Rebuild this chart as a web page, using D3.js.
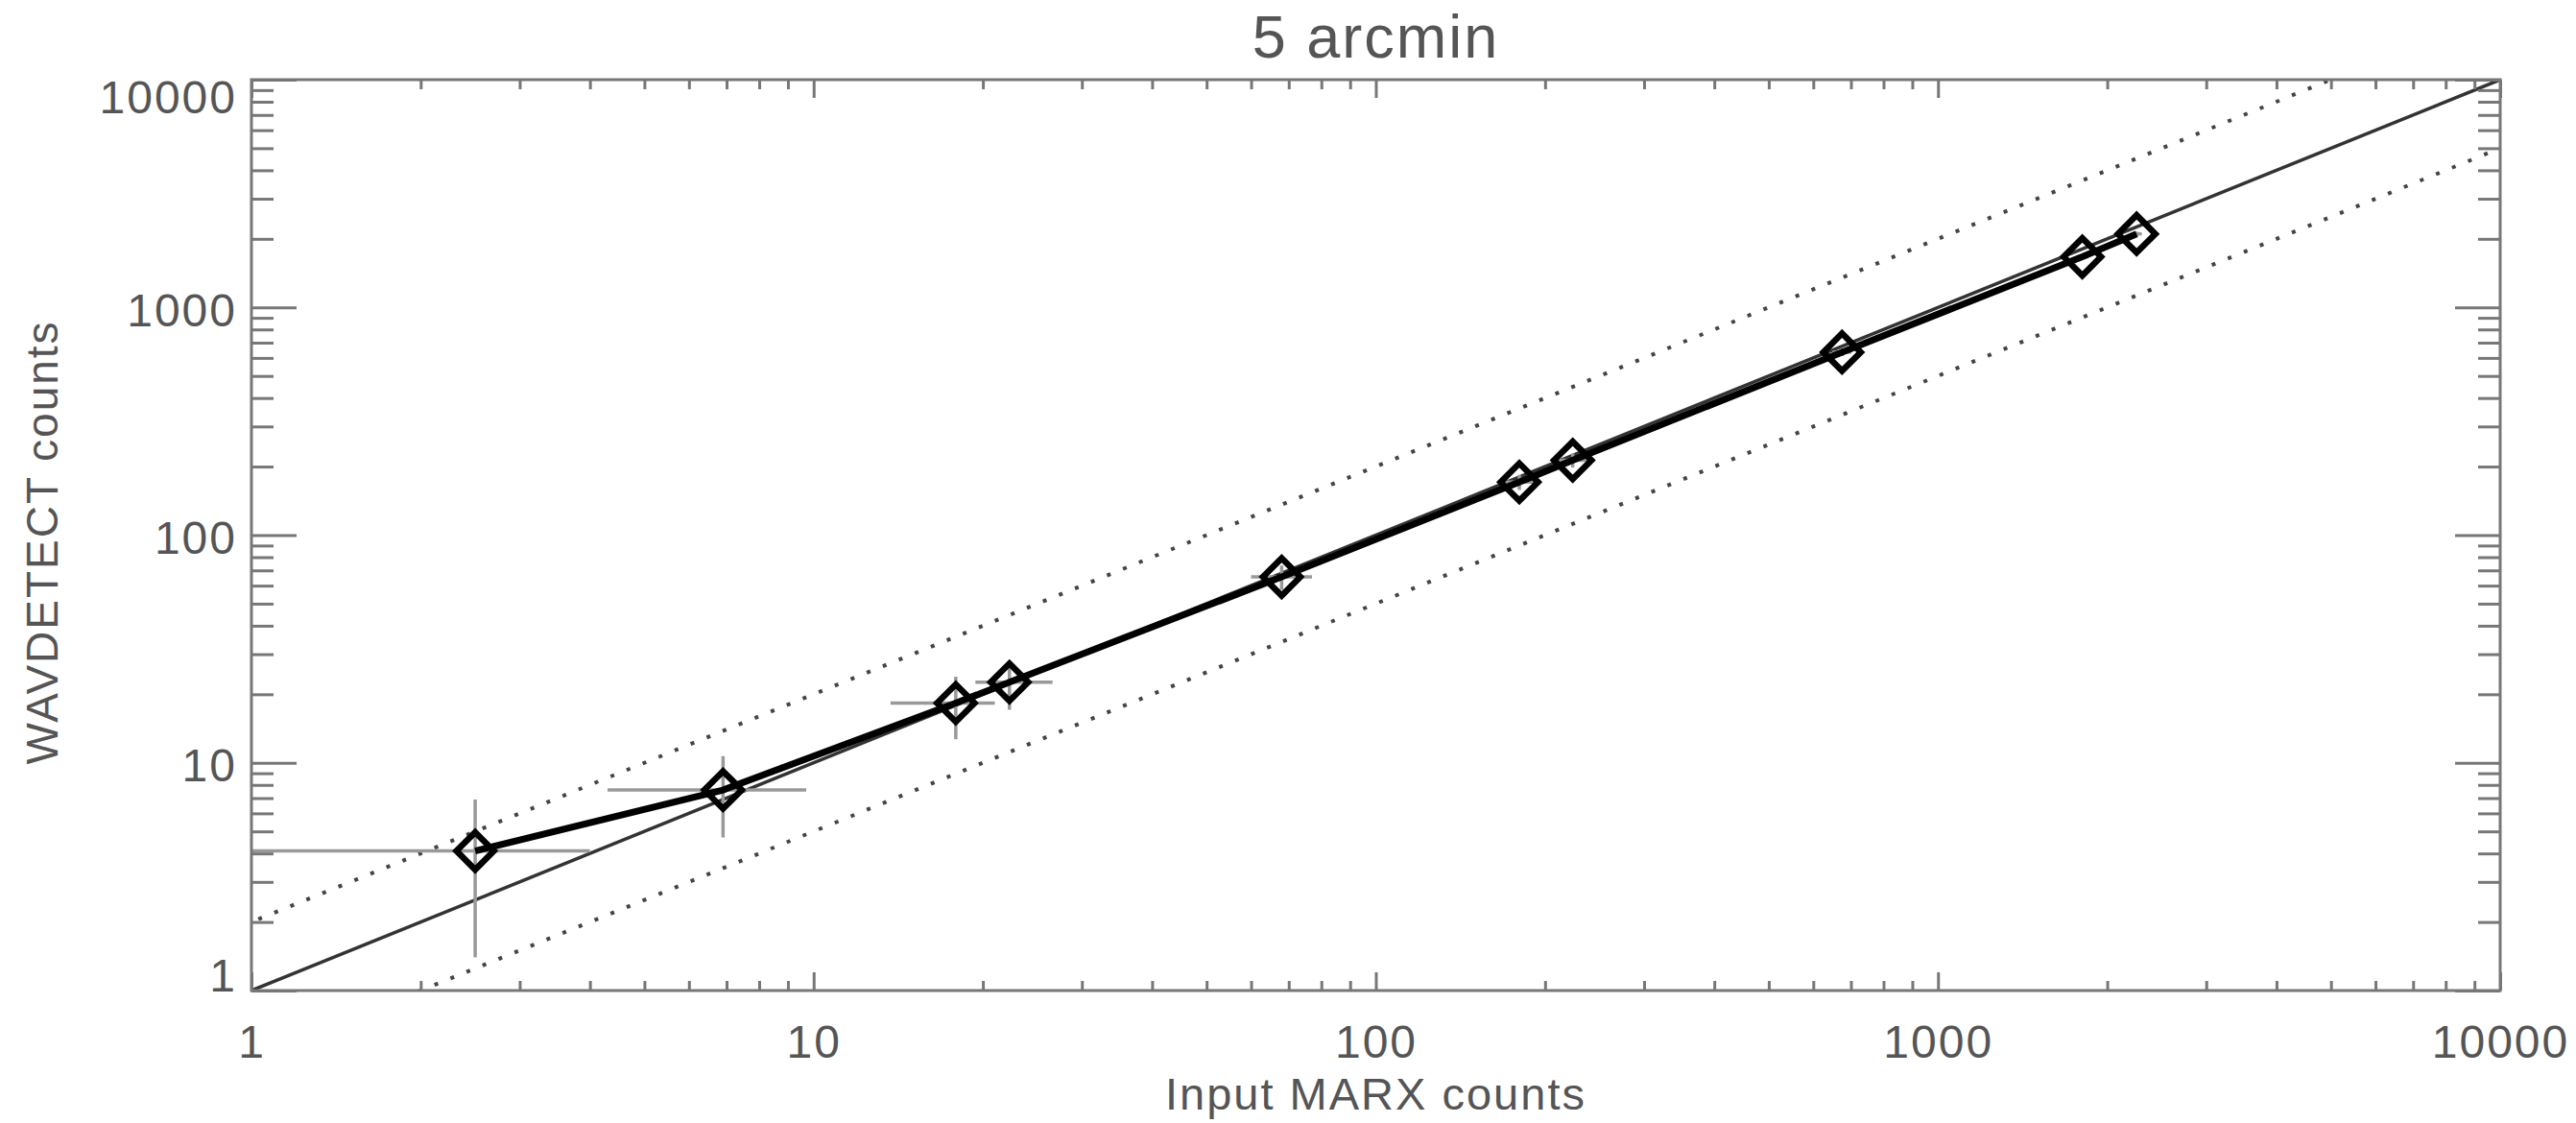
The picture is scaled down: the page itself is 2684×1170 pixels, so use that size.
<!DOCTYPE html>
<html>
<head>
<meta charset="utf-8">
<script src="https://cdn.jsdelivr.net/npm/d3@7"></script>
<style>
  html, body { margin: 0; padding: 0; background: #fff; }
  svg text { font-family: "Liberation Sans", Arial, sans-serif; fill: #555; letter-spacing: 2px; }
</style>
</head>
<body>
<svg id="chart"></svg>
<script>
// values
const inputCounts = [2.5, 6.9, 17.9, 22.3, 68, 180, 224, 675, 1806, 2256];
const detectCounts = [4.1, 7.6, 18.3, 22.6, 65.5, 171, 213, 636, 1667, 2103];
const inputLow = [0.9, 4.3, 13.7, 19.4, 60, 167, 209, 649, 1764, 2208];
const inputHigh = [4.0, 9.7, 21.0, 26.6, 77, 194, 239, 701, 1848, 2304];
const detectLow = [1.4, 4.7, 12.7, 17.1, 57.5, 158, 198, 611, 1627, 2057];
const detectHigh = [6.9, 10.7, 23.9, 27.6, 73.5, 184, 228, 661, 1707, 2149];
const refRatios = [1, 2, 0.5];
const majorTicks = [1, 10, 100, 1000, 10000];
const titleText = "5 arcmin";
const xTitle = "Input MARX counts";
const yTitle = "WAVDETECT counts";

const W = 2684, H = 1170;
const plotLeft = 262, plotRight = 2605, plotTop = 83, plotBottom = 1032;

const svg = d3.select("#chart").attr("width", W).attr("height", H);

const x = d3.scaleLog().domain([1, 10000]).range([plotLeft, plotRight]);
const y = d3.scaleLog().domain([1, 10000]).range([plotBottom, plotTop]);

// minor ticks 2..9 in every decade
const minorTicks = x.ticks().filter((d) => majorTicks.indexOf(d) < 0);

svg.append("clipPath").attr("id", "plotclip")
  .append("rect").attr("x", plotLeft).attr("y", plotTop)
  .attr("width", plotRight - plotLeft).attr("height", plotBottom - plotTop);

const plot = svg.append("g").attr("clip-path", "url(#plotclip)");

// 1:1 line and factor-of-two lines
const refLine = d3.line().x((d) => x(d[0])).y((d) => y(d[1]));
refRatios.forEach((r) => {
  plot.append("path")
    .datum([[0.5, 0.5 * r], [20000, 20000 * r]])
    .attr("d", refLine)
    .attr("fill", "none")
    .attr("stroke", r === 1 ? "#333" : "#444")
    .attr("stroke-width", r === 1 ? 3.5 : 4)
    .attr("stroke-dasharray", r === 1 ? null : "4,14");
});

// error bars
const idx = d3.range(inputCounts.length);
plot.selectAll(".xerr").data(idx).join("line")
  .attr("x1", (i) => x(inputLow[i])).attr("x2", (i) => x(inputHigh[i]))
  .attr("y1", (i) => y(detectCounts[i])).attr("y2", (i) => y(detectCounts[i]))
  .attr("stroke", "#999").attr("stroke-width", 3.5);
plot.selectAll(".yerr").data(idx).join("line")
  .attr("x1", (i) => x(inputCounts[i])).attr("x2", (i) => x(inputCounts[i]))
  .attr("y1", (i) => y(detectLow[i])).attr("y2", (i) => y(detectHigh[i]))
  .attr("stroke", "#999").attr("stroke-width", 3.5);

// data line
const dataLine = d3.line().x((i) => x(inputCounts[i])).y((i) => y(detectCounts[i]));
plot.append("path").datum(idx).attr("d", dataLine)
  .attr("fill", "none").attr("stroke", "#000").attr("stroke-width", 7);

// diamonds
const diamond = d3.symbol().type(d3.symbolSquare).size(760);
plot.selectAll(".pt").data(idx).join("path")
  .attr("d", diamond)
  .attr("transform", (i) => `translate(${x(inputCounts[i])},${y(detectCounts[i])}) rotate(45)`)
  .attr("fill", "none").attr("stroke", "#000").attr("stroke-width", 6.5);

// axes
const styleAxis = (g) => {
  g.select(".domain").remove();
  g.selectAll(".tick line").attr("stroke", "#777").attr("stroke-width", 3);
  g.selectAll(".tick text").attr("font-size", 48).attr("fill", "#555");
};

svg.append("g").attr("transform", `translate(0,${plotBottom})`)
  .call(d3.axisBottom(x).tickValues(majorTicks).tickSize(-19).tickPadding(36).tickFormat(d3.format("d")))
  .call(styleAxis);
svg.append("g").attr("transform", `translate(0,${plotBottom})`)
  .call(d3.axisBottom(x).tickValues(minorTicks).tickSize(-10).tickFormat(""))
  .call(styleAxis);
svg.append("g").attr("transform", `translate(0,${plotTop})`)
  .call(d3.axisTop(x).tickValues(majorTicks).tickSize(-19).tickFormat(""))
  .call(styleAxis);
svg.append("g").attr("transform", `translate(0,${plotTop})`)
  .call(d3.axisTop(x).tickValues(minorTicks).tickSize(-10).tickFormat(""))
  .call(styleAxis);

const yLabels = svg.append("g").attr("transform", `translate(${plotLeft},0)`)
  .call(d3.axisLeft(y).tickValues(majorTicks).tickSize(-47).tickPadding(15).tickFormat(d3.format("d")))
  .call(styleAxis);
// keep end labels inside the frame height
yLabels.selectAll(".tick text").attr("dy", (d) => (d === 10000 ? "0.72em" : d === 1 ? "0em" : "0.4em"));
svg.append("g").attr("transform", `translate(${plotLeft},0)`)
  .call(d3.axisLeft(y).tickValues(minorTicks).tickSize(-23).tickFormat(""))
  .call(styleAxis);
svg.append("g").attr("transform", `translate(${plotRight},0)`)
  .call(d3.axisRight(y).tickValues(majorTicks).tickSize(-47).tickFormat(""))
  .call(styleAxis);
svg.append("g").attr("transform", `translate(${plotRight},0)`)
  .call(d3.axisRight(y).tickValues(minorTicks).tickSize(-23).tickFormat(""))
  .call(styleAxis);

// frame
svg.append("rect")
  .attr("x", plotLeft).attr("y", plotTop)
  .attr("width", plotRight - plotLeft).attr("height", plotBottom - plotTop)
  .attr("fill", "none").attr("stroke", "#777").attr("stroke-width", 3);

// titles
svg.append("text").attr("x", (plotLeft + plotRight) / 2).attr("y", 60)
  .attr("text-anchor", "middle").attr("font-size", 63).text(titleText);
svg.append("text").attr("x", (plotLeft + plotRight) / 2).attr("y", 1156)
  .attr("text-anchor", "middle").attr("font-size", 47).text(xTitle);
svg.append("text")
  .attr("transform", `translate(60,565) rotate(-90)`)
  .attr("text-anchor", "middle").attr("font-size", 46).text(yTitle);
</script>
</body>
</html>
